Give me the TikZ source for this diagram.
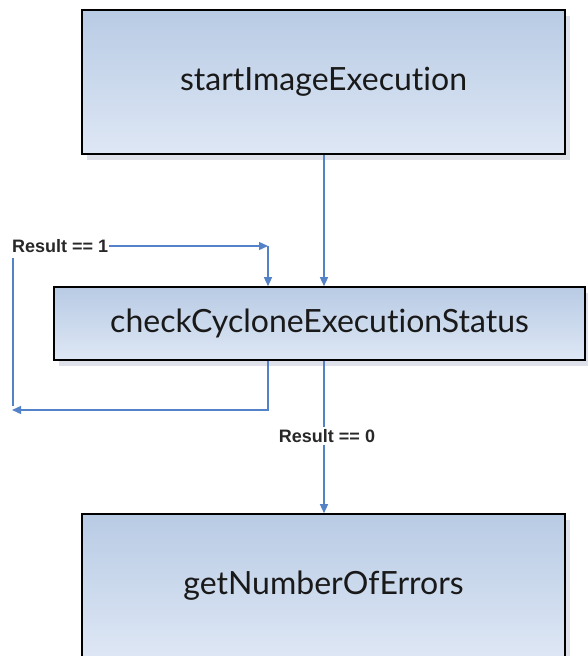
\documentclass[tikz,border=0pt]{standalone}
\usepackage{fontspec}
\setmainfont{Lato}[Ligatures={NoCommon,NoRare}]
\newfontfamily\lblfont{Liberation Sans}
\usetikzlibrary{shadows,arrows.meta}
\definecolor{flowblue}{RGB}{84,130,200}
\definecolor{boxtop}{RGB}{184,203,228}
\definecolor{boxbot}{RGB}{222,231,245}
\definecolor{shadowc}{RGB}{222,224,234}
\definecolor{lblgray}{RGB}{40,40,40}
\tikzset{
  procbox/.style={draw=black, line width=1.6pt, top color=boxtop, bottom color=boxbot,
    font=\fontsize{32}{36}\selectfont, text=black!90, inner sep=0pt,
    drop shadow={shadow xshift=5pt, shadow yshift=-6pt, fill=shadowc, opacity=1}},
  conn/.style={draw=flowblue, line width=1.3pt},
  flow/.style={conn, -{Triangle[length=9pt,width=8pt]}},
  lbl/.style={font=\lblfont\bfseries\fontsize{18}{20}\selectfont, text=lblgray, inner sep=1pt}
}
\begin{document}
\begin{tikzpicture}[x=1pt,y=-1pt]
\useasboundingbox (0,0) rectangle (588,656);
\node[procbox, minimum width=483pt, minimum height=144pt] (b1) at (323.5,82) {startImageExecution};
\node[procbox, minimum width=531pt, minimum height=73pt] (b2) at (319.5,323.5) {checkCycloneExecutionStatus};
\node[procbox, minimum width=483pt, minimum height=144pt] (b3) at (323.5,586) {getNumberOfErrors};

\coordinate (m1) at (324,0);
\draw[flow] (b1.south -| m1) -- (b2.north -| m1);
\draw[flow] (b2.south -| m1) -- (b3.north -| m1);
\node[lbl, fill=white, inner sep=2pt] (r0) at (327,436) {Result == 0};

\coordinate (lx) at (268,410);
\coordinate (lend) at (12,410);
\draw[flow] (b2.south -| lx) -- (lx) -- (lend);
\coordinate (vt) at (13,258);
\coordinate (vb) at (13,406);
\draw[conn] (vt) -- (vb);
\node[lbl, anchor=west] (r1) at (11,246) {Result == 1};
\coordinate (c1) at (268,246);
\draw[flow] (r1.east) -- (c1);
\draw[flow] (c1) -- (b2.north -| c1);
\end{tikzpicture}
\end{document}
